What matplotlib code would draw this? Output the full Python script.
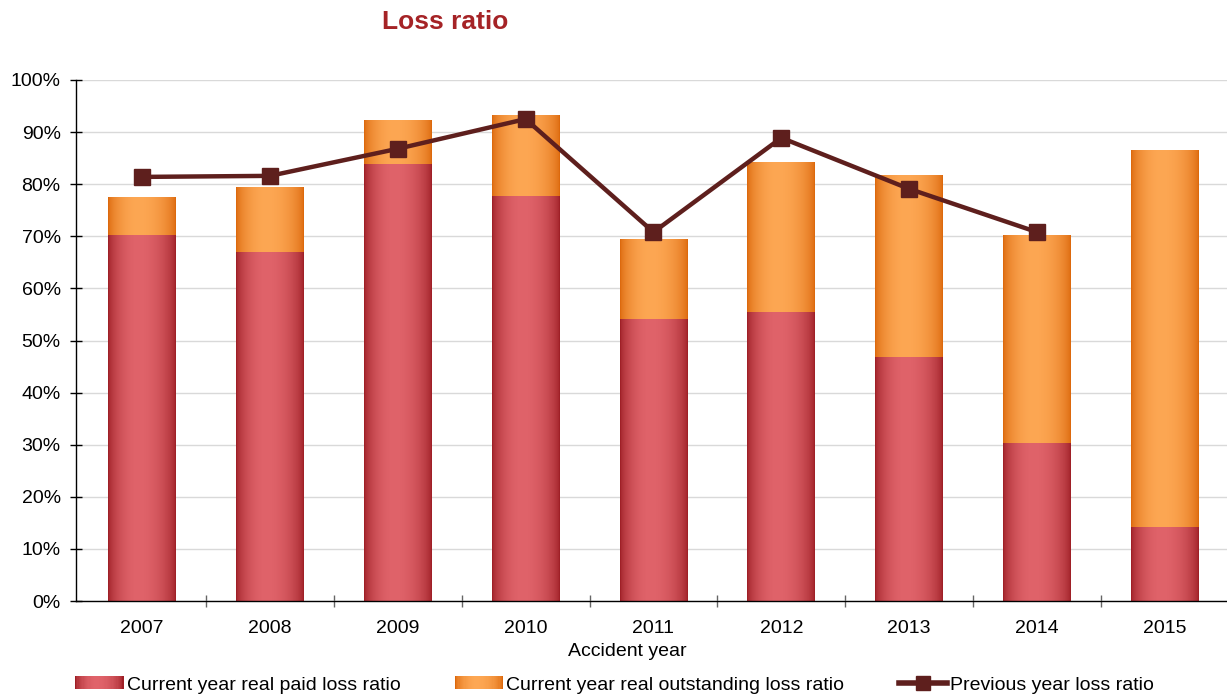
import numpy as np
import matplotlib
matplotlib.use("Agg")
import matplotlib.pyplot as plt
from matplotlib.patches import Rectangle, Patch
from matplotlib.lines import Line2D
from matplotlib.legend_handler import HandlerBase
from matplotlib.ticker import FixedLocator, FuncFormatter

plt.rcParams['font.family'] = ['Liberation Sans', 'DejaVu Sans']

years = ['2007', '2008', '2009', '2010', '2011', '2012', '2013', '2014', '2015']
paid = [70.2, 67.0, 83.9, 77.7, 54.1, 55.5, 46.8, 30.3, 14.2]
outstanding = [7.3, 12.5, 8.4, 15.6, 15.4, 28.8, 35.0, 39.9, 72.4]
previous = [81.4, 81.6, 86.8, 92.5, 70.8, 88.9, 79.1, 70.8]

RED = ('#9e1f26', '#e0636a')
ORANGE = ('#dc680c', '#fda753')
LINE_C = '#5e1f1d'


def shade(edge, peak, n=80):
    # dark at both sides, brightest a little left of centre
    e = np.array(matplotlib.colors.to_rgb(edge))
    p = np.array(matplotlib.colors.to_rgb(peak))
    t = np.linspace(0, 1, n)
    c = 0.45
    w = np.where(t < c, np.sin(t / c * np.pi / 2), np.cos((t - c) / (1 - c) * np.pi / 2))
    w = np.clip(w, 0, 1) ** 0.6
    return e + (p - e) * w[:, None]


class GradHandler(HandlerBase):
    def __init__(self, edge, peak):
        super().__init__()
        self.cols = shade(edge, peak, 40)

    def create_artists(self, legend, orig_handle, xdescent, ydescent,
                       width, height, fontsize, trans):
        n = len(self.cols)
        out = []
        for i, c in enumerate(self.cols):
            out.append(Rectangle((-xdescent + width * i / n, -ydescent),
                                 width / n * 1.1, height, facecolor=c,
                                 edgecolor='none', transform=trans))
        return out


fig = plt.figure(figsize=(12.27, 6.95), dpi=100)
ax = fig.add_axes([76 / 1227, 1 - 601 / 695, 1 - 76 / 1227, (601 - 80) / 695])

x = np.arange(len(years))
bw = 0.53
b1 = ax.bar(x, paid, bw, color=RED[1], edgecolor='none', zorder=2)
b2 = ax.bar(x, outstanding, bw, bottom=paid, color=ORANGE[1], edgecolor='none', zorder=2)

for bars, (edge, peak) in ((b1, RED), (b2, ORANGE)):
    img = shade(edge, peak)[None, :, :]
    for r in bars:
        x0, y0 = r.get_x(), r.get_y()
        im = ax.imshow(img, extent=(x0, x0 + r.get_width(), y0, y0 + r.get_height()),
                       aspect='auto', interpolation='bilinear', zorder=2.1)
        im.set_clip_path(r)

ax.plot(x[:len(previous)], previous, color=LINE_C, lw=3.2, marker='s',
        markersize=12, zorder=4)

ax.set_xlim(-0.516, len(years) - 0.515)
ax.set_ylim(0, 100)

ax.set_yticks(np.arange(0, 101, 10))
ax.yaxis.set_major_formatter(FuncFormatter(lambda v, p: f'{v:.0f}%'))
ax.set_xticks(x)
ax.set_xticklabels(years)
ax.xaxis.set_minor_locator(FixedLocator(np.arange(0.5, len(years) - 1, 1)))

ax.tick_params(axis='y', direction='inout', length=8, width=1, labelsize=14, pad=7)
ax.tick_params(axis='x', which='major', length=0, labelsize=14, pad=14)
ax.tick_params(axis='x', which='minor', direction='inout', length=8, width=1, color='#666666')

ax.grid(axis='y', color='#d9d9d9', lw=1)
ax.set_axisbelow(True)
for s in ('top', 'right'):
    ax.spines[s].set_visible(False)
for s in ('left', 'bottom'):
    ax.spines[s].set_linewidth(1)
    ax.spines[s].set_color('black')

fig.text(627 / 1227, 1 - 652 / 695, 'Accident year', ha='center', va='center', fontsize=14)
fig.text(445 / 1227, 1 - 22 / 695, 'Loss ratio', ha='center', va='center',
         fontsize=19, fontweight='bold', color='#a52326')

h1 = Patch(facecolor=RED[1])
h2 = Patch(facecolor=ORANGE[1])
h3 = Line2D([], [], color=LINE_C, lw=4, marker='s', markersize=10)
fig.legend([h1, h2, h3],
           ['Current year real paid loss ratio',
            'Current year real outstanding loss ratio',
            'Previous year loss ratio'],
           handler_map={h1: GradHandler(*RED), h2: GradHandler(*ORANGE)},
           loc='center left', bbox_to_anchor=(75 / 1227, 1 - 685 / 695),
           ncol=3, frameon=False, fontsize=14, borderpad=0, borderaxespad=0,
           handlelength=2.5, handleheight=0.6, handletextpad=0.15,
           columnspacing=2.8, numpoints=1)

fig.savefig('out.png', dpi=100)
